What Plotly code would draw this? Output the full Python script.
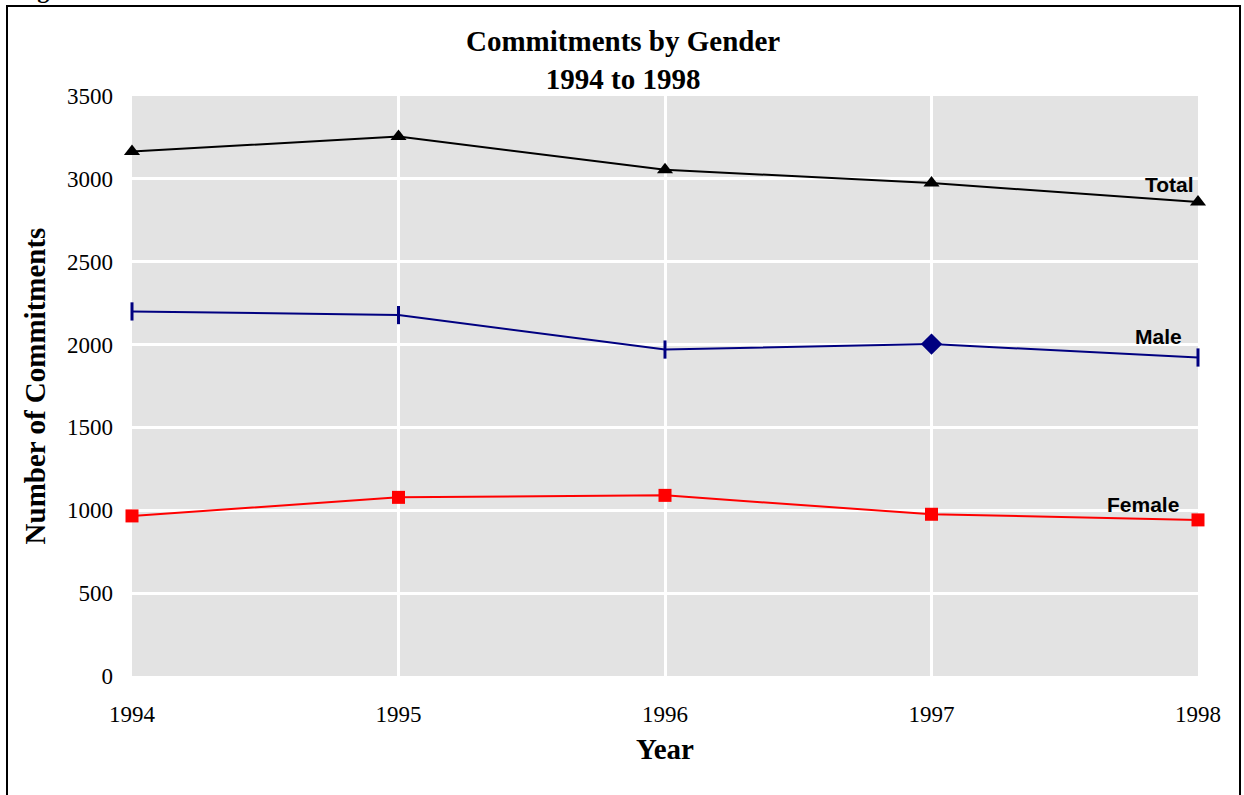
import plotly.graph_objects as go

years = [1994, 1995, 1996, 1997, 1998]
total = [3165, 3255, 3055, 2975, 2860]
male = [2200, 2178, 1970, 2003, 1922]
female = [966, 1078, 1090, 976, 942]
male_symbols = ['line-ns', 'line-ns', 'line-ns', 'diamond', 'line-ns']
y_ticks = [0, 500, 1000, 1500, 2000, 2500, 3000, 3500]

SERIF = 'Liberation Serif, Times New Roman, serif'

W, H = 1244, 795
L, T, PW, PH = 132, 96, 1066, 580


def py(p):
    # píxel vertical -> coordenada paper
    return (T + PH - p) / PH


def px(p):
    return (p - L) / PW


fig = go.Figure()

fig.add_trace(go.Scatter(
    x=years, y=total, mode='lines+markers', name='Total',
    line=dict(color='black', width=2),
    marker=dict(symbol='triangle-up', size=14, color='black'),
    cliponaxis=False
))
fig.add_trace(go.Scatter(
    x=years, y=male, mode='lines+markers', name='Male',
    line=dict(color='#000080', width=2),
    marker=dict(symbol=male_symbols, size=13, color='#000080',
                line=dict(color='#000080', width=3)),
    cliponaxis=False
))
# rombo de 1997 encima, en color sólido
fig.add_trace(go.Scatter(
    x=[years[3]], y=[male[3]], mode='markers', name='Male 1997',
    marker=dict(symbol='diamond', size=15, color='#000080'),
    cliponaxis=False
))
fig.add_trace(go.Scatter(
    x=years, y=female, mode='lines+markers', name='Female',
    line=dict(color='red', width=2),
    marker=dict(symbol='square', size=13, color='red'),
    cliponaxis=False
))

# etiquetas de las series
label_font = dict(family='Liberation Sans, Arial', size=21, color='black')
for txt, xv, yv, dx, dy in [('Total', years[-1], total[-1], -29, 4),
                            ('Male', years[-1], male[-1], -40, 8),
                            ('Female', years[-1], female[-1], -55, 2)]:
    fig.add_annotation(x=xv, y=yv, text='<b>' + txt + '</b>', showarrow=False,
                       xanchor='center', yanchor='bottom', xshift=dx, yshift=dy,
                       font=label_font)

# marco exterior
fig.add_shape(type='rect', xref='paper', yref='paper',
              x0=px(7), x1=px(1240), y0=py(830), y1=py(6),
              line=dict(color='black', width=2))

fig.add_annotation(xref='paper', yref='paper', x=px(14), y=py(5),
                   text='<b>Figure</b>', showarrow=False, xanchor='left', yanchor='bottom',
                   font=dict(family=SERIF, size=24, color='black'))

# título
fig.add_annotation(xref='paper', yref='paper', x=px(623), y=py(60),
                   text='<b>Commitments by Gender<br>1994 to 1998</b>', showarrow=False,
                   xanchor='center', yanchor='middle',
                   font=dict(family=SERIF, size=29, color='black'))

fig.update_layout(
    showlegend=False,
    width=W, height=H,
    paper_bgcolor='white',
    plot_bgcolor='#e3e3e3',
    margin=dict(l=L, r=W - L - PW, t=T, b=H - T - PH),
    font=dict(family=SERIF, size=23, color='black'),
    xaxis=dict(
        range=[1994, 1998], tickvals=years, ticktext=[str(y) for y in years],
        showgrid=True, gridcolor='white', gridwidth=3, zeroline=False,
        ticks='', ticklabelstandoff=22,
        title=dict(text='<b>Year</b>', font=dict(size=29), standoff=12),
    ),
    yaxis=dict(
        range=[0, 3500], tickvals=y_ticks,
        showgrid=True, gridcolor='white', gridwidth=3, zeroline=False,
        ticks='', ticklabelstandoff=18,
        title=dict(text='<b>Number of Commitments</b>', font=dict(size=29), standoff=12),
    ),
)

fig.write_html("out.html", config={'displayModeBar': False},
               post_script="document.body.style.margin='0';document.body.style.overflow='hidden';")
